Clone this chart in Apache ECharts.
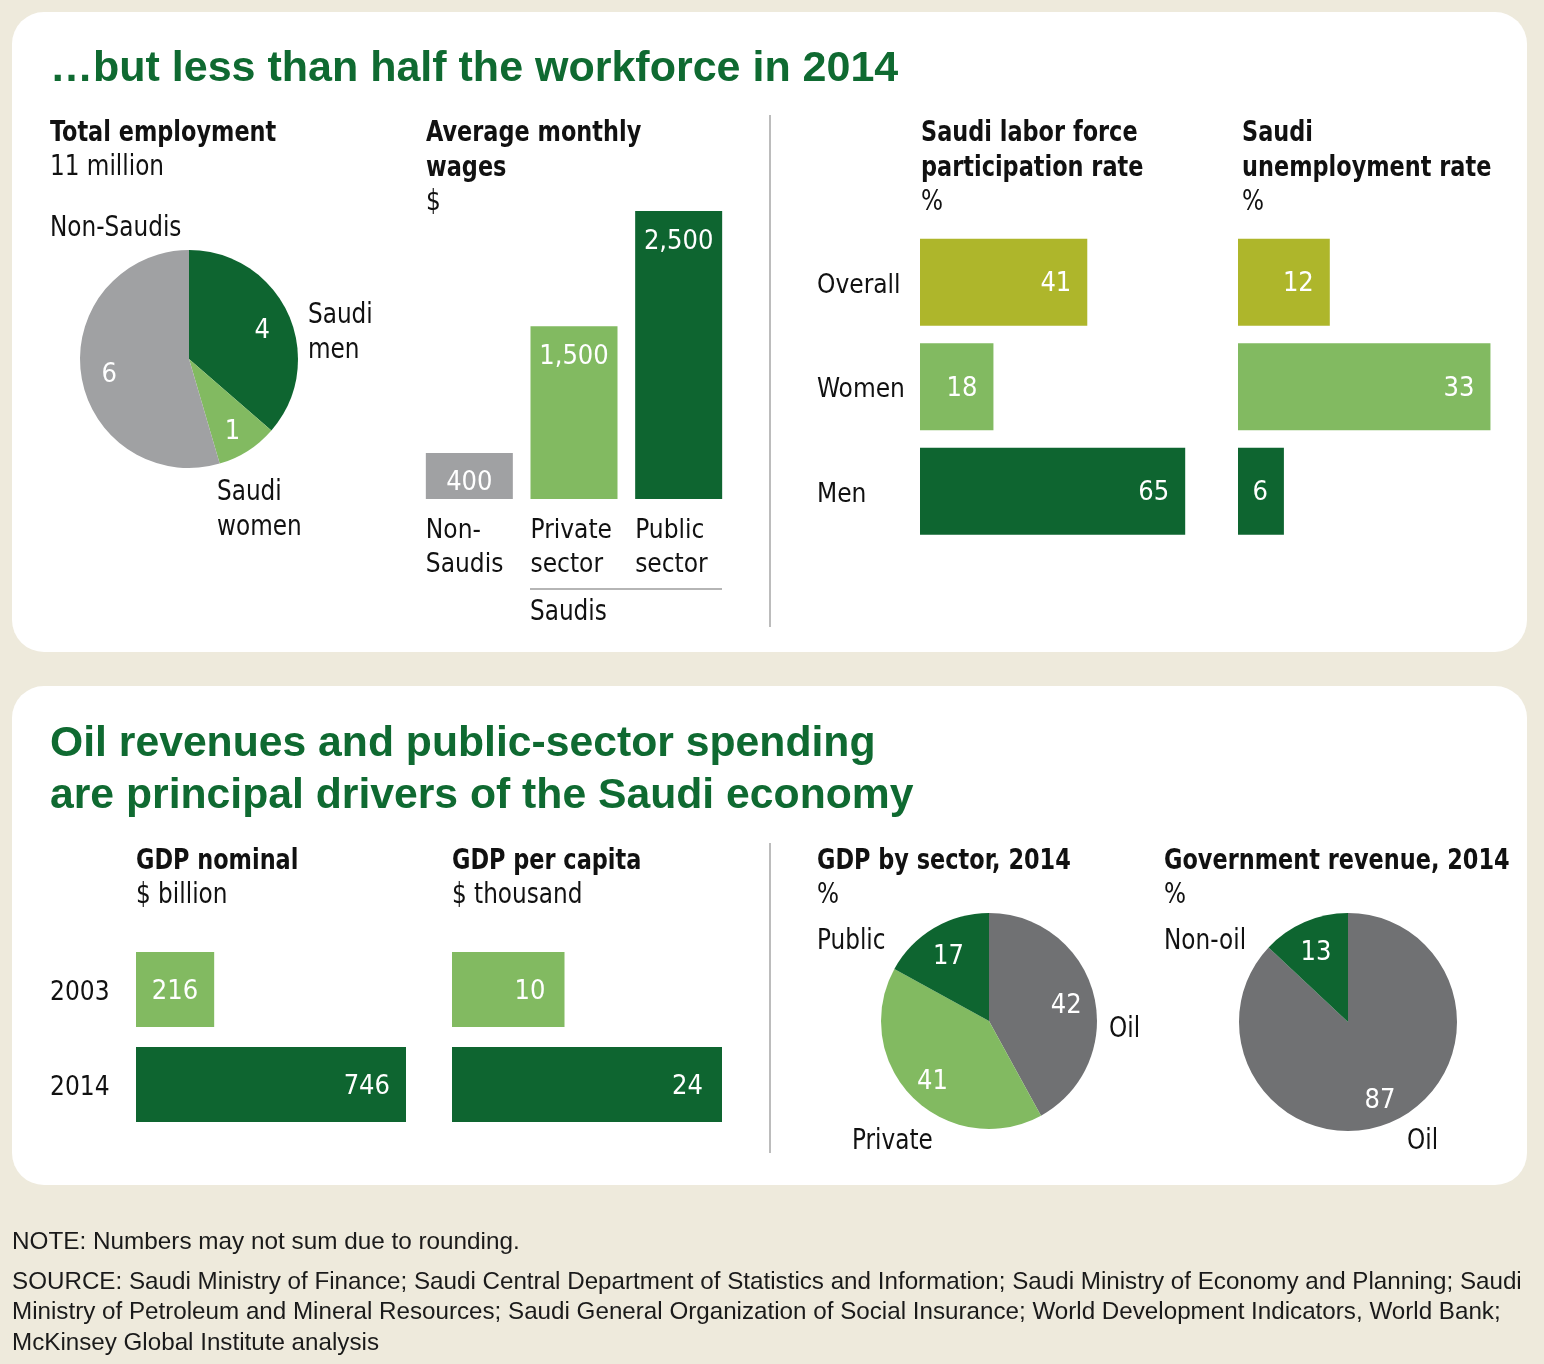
<!DOCTYPE html>
<html><head><meta charset="utf-8">
<script src="https://cdn.jsdelivr.net/npm/echarts@6/dist/echarts.min.js"></script>
<style>html,body{margin:0;padding:0;background:#EEEADC}#c{width:1544px;height:1364px}</style>
</head><body><div id="c"></div>
<script>
// ---------- data ----------
const employmentLabels = ['Saudi men', 'Saudi women', 'Non-Saudis'];
const employmentValues = [4, 1, 6];
const wageCategories = ['Non-\nSaudis', 'Private\nsector', 'Public\nsector'];
const wageValues = [400, 1500, 2500];
const groupCategories = ['Overall', 'Women', 'Men'];
const participationValues = [41, 18, 65];
const unemploymentValues = [12, 33, 6];
const years = ['2003', '2014'];
const gdpNominal = [216, 746];
const gdpPerCapita = [10, 24];
const sectorLabels = ['Oil', 'Private', 'Public'];
const sectorValues = [42, 41, 17];
const revenueLabels = ['Oil', 'Non-oil'];
const revenueValues = [87, 13];

// ---------- styles ----------
const DARK = '#0E6530', LIGHT = '#82BA61', OLIVE = '#AEB62B', GRAYL = '#A0A1A3', GRAYD = '#707173';
const TITLE = '#0F6A31', INK = '#111111';
const COND = "'Liberation Sans Narrow','DejaVu Sans Condensed','Roboto Condensed','Arial Narrow',sans-serif";
const SANS = "'Liberation Sans',Arial,Helvetica,sans-serif";

const chart = echarts.init(document.getElementById('c'), null, {renderer: 'canvas', width: 1544, height: 1364});

function T(x, y, text, o) {
  o = o || {};
  const lh = o.lh || 35;
  const sx = o.sx || (o.family ? 1 : (o.bold ? 0.89 : 0.92));
  return {type: 'text', x: x, y: y - lh / 2, z: 10, silent: true, scaleX: sx,
    style: {text: text, fill: o.fill || INK, fontFamily: o.family || COND, fontSize: o.size || 28,
      fontWeight: o.bold ? 'bold' : 'normal', align: o.align || 'left', verticalAlign: 'top', lineHeight: lh}};
}

const valLabel = {show: true, color: '#fff', fontFamily: COND, fontSize: 27, offset: [0, 2]};
const hiddenValueAxis = (gi, max) => ({type: 'value', gridIndex: gi, min: 0, max: max,
  axisLine: {show: false}, axisTick: {show: false}, splitLine: {show: false}, axisLabel: {show: false}});

const grids = [
  {left: 417, top: 211, width: 314, height: 288},      // 0 wages
  {left: 920, top: 230, width: 408, height: 313.5},    // 1 participation
  {left: 1238, top: 230, width: 322, height: 313.5},   // 2 unemployment
  {left: 136, top: 942, width: 270, height: 190},      // 3 GDP nominal
  {left: 452, top: 942, width: 270, height: 190}       // 4 GDP per capita
];

const xAxes = [
  {type: 'category', gridIndex: 0, data: wageCategories, axisLine: {show: false}, axisTick: {show: false},
    axisLabel: {margin: 15, formatter: v => '{a|' + v + '}',
      rich: {a: {width: 87, align: 'left', fontSize: 26, fontFamily: COND, color: INK, lineHeight: 34}}}},
  hiddenValueAxis(1, 100),
  hiddenValueAxis(2, 40),
  hiddenValueAxis(3, 746),
  hiddenValueAxis(4, 24)
];
const catAxis = (gi, data, showLabels, margin) => ({type: 'category', gridIndex: gi, data: data, inverse: true,
  axisLine: {show: false}, axisTick: {show: false},
  axisLabel: {show: showLabels, margin: margin || 0, align: 'left', formatter: v => '{a|' + v + '}',
    rich: {a: {fontSize: 26, fontFamily: COND, color: INK, padding: [7, 0, 0, 0]}}}});
const yAxes = [
  hiddenValueAxis(0, 2500),
  catAxis(1, groupCategories, true, 103),
  catAxis(2, groupCategories, false),
  catAxis(3, years, true, 86),
  catAxis(4, years, false)
];

const groupColors = [OLIVE, LIGHT, DARK];
const yearColors = [LIGHT, DARK];
const wageColors = [GRAYL, LIGHT, DARK];

const pieCenters = {};
const series = [];
function addPie(center, radius, labels, values, colors) {
  pieCenters[series.length] = center;
  series.push({type: 'pie', center: center, radius: [0, radius], startAngle: 90, clockwise: true,
    silent: true, animation: false,
    data: values.map((v, i) => ({name: labels[i], value: v, itemStyle: {color: colors[i], borderWidth: 0}})),
    label: {show: true, position: 'inside', formatter: '{c}', color: '#fff', fontFamily: COND, fontSize: 27},
    labelLine: {show: false},
    labelLayout: function (p) {
      const c = pieCenters[p.seriesIndex];
      const lx = p.labelRect.x + p.labelRect.width / 2, ly = p.labelRect.y + p.labelRect.height / 2;
      return {dx: (lx - c[0]) * 0.4, dy: (ly - c[1]) * 0.4 + 5};
    }});
}
addPie([189, 359], 109, employmentLabels, employmentValues, [DARK, LIGHT, GRAYL]);
addPie([989, 1021], 108, sectorLabels, sectorValues, [GRAYD, LIGHT, DARK]);
addPie([1348, 1022], 109, revenueLabels, revenueValues, [GRAYD, DARK]);

series.push({type: 'bar', xAxisIndex: 0, yAxisIndex: 0, barWidth: 87, animation: false,
  data: wageValues.map((v, i) => ({value: v, itemStyle: {color: wageColors[i]}})),
  label: Object.assign({}, valLabel, {position: 'insideTop', distance: 15,
    formatter: p => p.value.toLocaleString('en-US')})});
function hbar(gi, values, colors, width, dist) {
  series.push({type: 'bar', xAxisIndex: gi, yAxisIndex: gi, barWidth: width, animation: false,
    data: values.map((v, i) => ({value: v, itemStyle: {color: colors[i]}})),
    label: Object.assign({}, valLabel, {position: 'insideRight', distance: dist})});
}
hbar(1, participationValues, groupColors, 87, 16);
hbar(2, unemploymentValues, groupColors, 87, 16);
hbar(3, gdpNominal, yearColors, 75, 16);
hbar(4, gdpPerCapita, yearColors, 75, 19);

const graphic = [
  {type: 'rect', z: 0, silent: true, shape: {x: 12, y: 12, width: 1515, height: 640, r: 32}, style: {fill: '#fff'}},
  {type: 'rect', z: 0, silent: true, shape: {x: 12, y: 686, width: 1515, height: 499, r: 32}, style: {fill: '#fff'}},
  {type: 'line', z: 5, silent: true, shape: {x1: 770, y1: 115, x2: 770, y2: 627}, style: {stroke: '#A6A6A6', lineWidth: 1.5}},
  {type: 'line', z: 5, silent: true, shape: {x1: 770, y1: 843, x2: 770, y2: 1153}, style: {stroke: '#A6A6A6', lineWidth: 1.5}},
  {type: 'line', z: 5, silent: true, shape: {x1: 530, y1: 589, x2: 722, y2: 589}, style: {stroke: '#B5B5B5', lineWidth: 2}},
  T(50, 69, '…but less than half the workforce in 2014', {family: SANS, size: 43, bold: true, fill: TITLE, lh: 52}),
  T(50, 744, 'Oil revenues and public-sector spending\nare principal drivers of the Saudi economy', {family: SANS, size: 42.7, bold: true, fill: TITLE, lh: 52}),
  T(50, 134, 'Total employment', {bold: true}),
  T(50, 168, '11 million'),
  T(426, 134, 'Average monthly\nwages', {bold: true}),
  T(426, 203, '$'),
  T(921, 134, 'Saudi labor force\nparticipation rate', {bold: true}),
  T(921, 203, '%'),
  T(1242, 134, 'Saudi\nunemployment rate', {bold: true}),
  T(1242, 203, '%'),
  T(50, 229, employmentLabels[2]),
  T(308, 316, 'Saudi\nmen'),
  T(217, 493, 'Saudi\nwomen'),
  T(530, 613, 'Saudis'),
  T(136, 862, 'GDP nominal', {bold: true}),
  T(136, 896, '$ billion'),
  T(452, 862, 'GDP per capita', {bold: true}),
  T(452, 896, '$ thousand'),
  T(817, 862, 'GDP by sector, 2014', {bold: true}),
  T(817, 896, '%'),
  T(1164, 862, 'Government revenue, 2014', {bold: true}),
  T(1164, 896, '%'),
  T(817, 942, sectorLabels[2]),
  T(1109, 1030, sectorLabels[0]),
  T(852, 1142, sectorLabels[1]),
  T(1164, 942, revenueLabels[1]),
  T(1407, 1142, revenueLabels[0]),
  T(12, 1242, 'NOTE: Numbers may not sum due to rounding.', {family: SANS, size: 24.3, lh: 30.5, fill: '#1a1a1a'}),
  T(12, 1282, 'SOURCE: Saudi Ministry of Finance; Saudi Central Department of Statistics and Information; Saudi Ministry of Economy and Planning; Saudi\nMinistry of Petroleum and Mineral Resources; Saudi General Organization of Social Insurance; World Development Indicators, World Bank;\nMcKinsey Global Institute analysis', {family: SANS, size: 24.2, lh: 30.5, fill: '#1a1a1a'})
];

chart.setOption({
  backgroundColor: '#EEEADC',
  animation: false,
  grid: grids,
  xAxis: xAxes,
  yAxis: yAxes,
  series: series,
  graphic: graphic
});
</script>
</body></html>
